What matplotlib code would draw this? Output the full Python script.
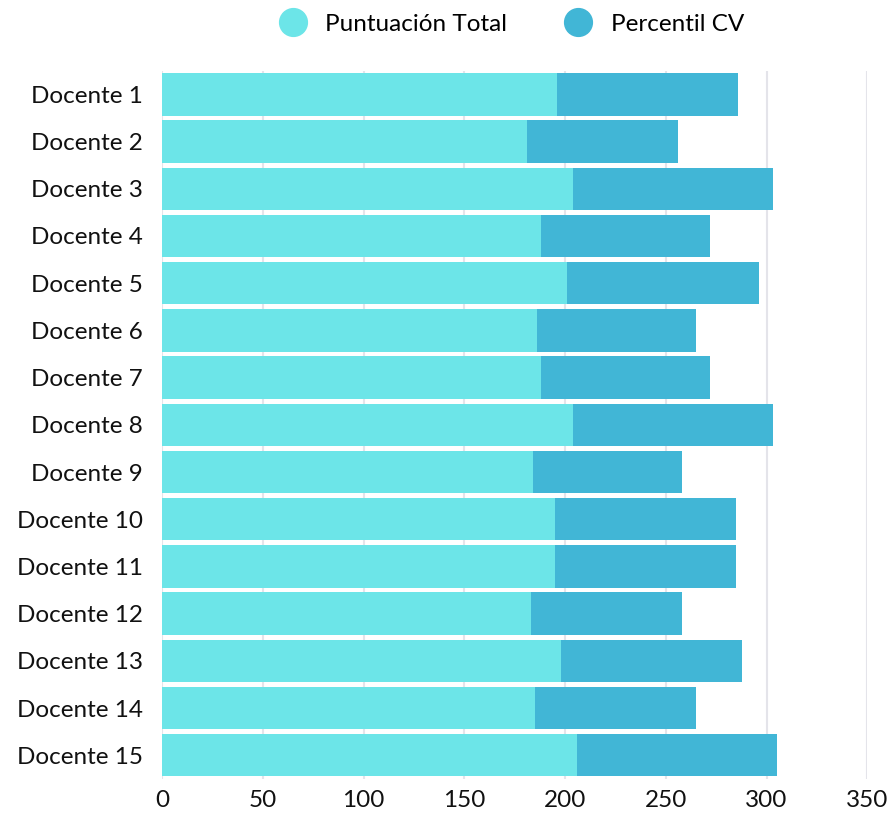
import matplotlib.pyplot as plt
from matplotlib.lines import Line2D

plt.rcParams['font.family'] = ['Lato', 'DejaVu Sans']

# Datos
docentes = [f"Docente {i}" for i in range(1, 16)]
puntuacion_total = [196, 181, 204, 188, 201, 186, 188, 204, 184, 195, 195, 183, 198, 185, 206]
percentil_cv = [90, 75, 99, 84, 95, 79, 84, 99, 74, 90, 90, 75, 90, 80, 99]

color_total = "#6ce5e8"
color_cv = "#41b6d6"

fig = plt.figure(figsize=(8.91, 8.13), dpi=100)
ax = fig.add_axes([0.182, 0.042, 0.7914, 0.871])

# Barras apiladas horizontales
ax.barh(docentes, puntuacion_total, height=0.9, color=color_total, zorder=2)
ax.barh(docentes, percentil_cv, left=puntuacion_total, height=0.9, color=color_cv, zorder=2)

ax.set_xlim(0, 350)
ax.set_ylim(14.5, -0.5)
ax.set_xticks(range(0, 351, 50))

for s in ax.spines.values():
    s.set_visible(False)
ax.grid(axis="x", color="#e4e4ea", linewidth=1.5, zorder=0)
ax.tick_params(axis="both", length=0, labelsize=17.5, colors="#111111")
ax.tick_params(axis="y", pad=14)
ax.tick_params(axis="x", pad=8)

# Leyenda
handles = [
    Line2D([], [], marker="o", linestyle="", markersize=20, color=color_total, label="Puntuación Total"),
    Line2D([], [], marker="o", linestyle="", markersize=20, color=color_cv, label="Percentil CV"),
]
fig.legend(handles=handles, loc="center", bbox_to_anchor=(0.568, 0.970), ncol=2,
           frameon=False, fontsize=17.5, handletextpad=0.35, columnspacing=1.9)

fig.savefig("out.png", dpi=100, facecolor="white")
